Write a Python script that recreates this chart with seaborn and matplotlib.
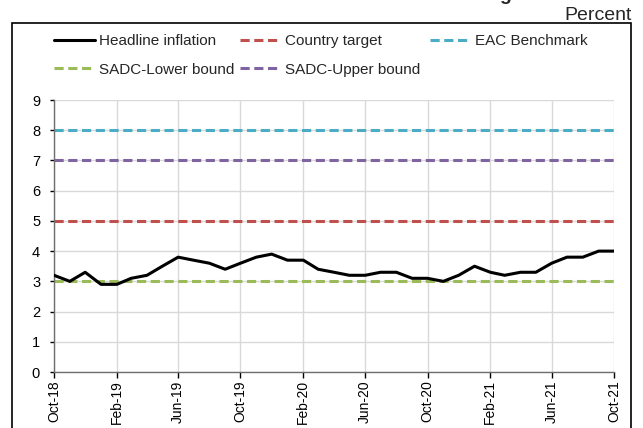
import numpy as np
import pandas as pd
import seaborn as sns
import matplotlib.pyplot as plt
import matplotlib.dates as mdates
from matplotlib.patches import Rectangle

# monthly headline inflation, Oct-18 .. Oct-21
months = pd.date_range("2018-10-01", "2021-10-01", freq="MS")
headline = [3.2, 3.0, 3.3, 2.9, 2.9, 3.1, 3.2, 3.5, 3.8, 3.7, 3.6, 3.4, 3.6,
            3.8, 3.9, 3.7, 3.7, 3.4, 3.3, 3.2, 3.2, 3.3, 3.3, 3.1, 3.1, 3.0,
            3.2, 3.5, 3.3, 3.2, 3.3, 3.3, 3.6, 3.8, 3.8, 4.0, 4.0]

target_names = ["Country target", "EAC Benchmark", "SADC-Lower bound", "SADC-Upper bound"]
target_levels = [5, 8, 3, 7]
target_colors = ["#C0504D", "#4BACC6", "#9BBB59", "#8064A2"]

sns.set_style("white")
plt.rcParams["font.family"] = ["Liberation Sans", "DejaVu Sans"]

fig = plt.figure(figsize=(6.43, 4.28), dpi=100)
ax = fig.add_axes([54 / 643, 1 - 372 / 428, 560 / 643, 272 / 428])

lines = {}
for name, level, color in zip(target_names, target_levels, target_colors):
    df = pd.DataFrame({"month": months, "value": [level] * len(months)})
    sns.lineplot(data=df, x="month", y="value", ax=ax, color=color, lw=2.2,
                 zorder=2)
    ln = ax.lines[-1]
    ln.set_linestyle((0, (3.0, 1.5)))
    lines[name] = ln

df_h = pd.DataFrame({"month": months, "value": headline})
sns.lineplot(data=df_h, x="month", y="value", ax=ax, color="black", lw=2.2, zorder=3)
lines["Headline inflation"] = ax.lines[-1]

ax.set_xlim(months[0], months[-1])
ax.set_ylim(0, 9)
ax.set_yticks(range(0, 10))
ax.set_xticks(months[::4])
ax.xaxis.set_major_formatter(mdates.DateFormatter("%b-%y"))
ax.tick_params(axis="x", rotation=90, labelsize=10, length=4, width=1,
               direction="out", bottom=True, pad=2, colors="black")
ax.tick_params(axis="y", labelsize=10.5, length=3, width=1, direction="out",
               left=True, pad=7, colors="black")
for t in ax.get_xticklines() + ax.get_yticklines():
    t.set_color("#6e6e6e")
ax.set_xlabel("")
ax.set_ylabel("")
ax.grid(True, color="#d9d9d9", lw=1)
sns.despine(ax=ax)
for side in ["left", "bottom"]:
    ax.spines[side].set_color("#6e6e6e")
    ax.spines[side].set_linewidth(1)

# legend columns
cols = [(["Headline inflation", "SADC-Lower bound"], 54),
        (["Country target", "SADC-Upper bound"], 240),
        (["EAC Benchmark"], 430)]
for names, x0 in cols:
    fig.legend([lines[n] for n in names], names, loc="upper left",
               bbox_to_anchor=(x0 / 643, 1 - 34 / 428), frameon=False,
               fontsize=11, handlelength=2.7, handletextpad=0.25,
               borderpad=0, borderaxespad=0, labelspacing=0.95)

# outer chart box
fig.patches.append(Rectangle((12 / 643, -0.1), 619 / 643, 1.1 - 23 / 428,
                             transform=fig.transFigure, fill=False,
                             ec="black", lw=1.2))

fig.text(632 / 643, 1 - 20 / 428, "Percent", ha="right", va="baseline", fontsize=14)
fig.text(499 / 643, 1.0, "g", ha="left", va="baseline", fontsize=14, fontweight="bold")

fig.savefig("out.png", dpi=100)
